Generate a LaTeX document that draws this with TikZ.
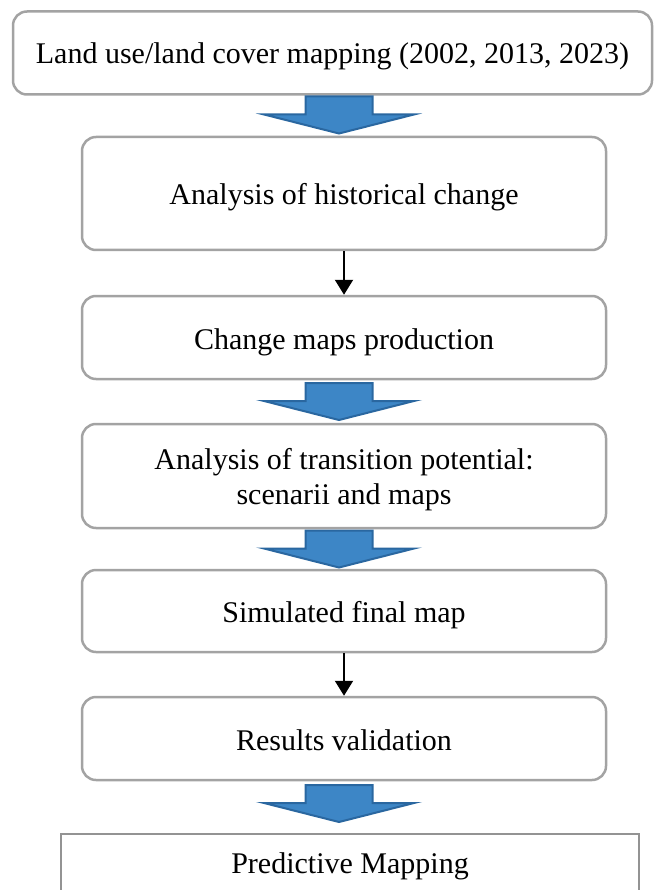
\documentclass[tikz,border=0pt]{standalone}
\usepackage{fontspec}
\setmainfont{Liberation Serif}
\usetikzlibrary{arrows.meta}
\definecolor{boxline}{HTML}{A3A3A3}
\definecolor{arrowfill}{HTML}{3D86C6}
\definecolor{arrowline}{HTML}{2A67A0}

\begin{document}
\begin{tikzpicture}[x=1pt, y=-1pt,
    stage/.style ={rectangle, rounded corners=14pt, draw=boxline, line width=2.5pt,
      font=\fontsize{30}{35}\selectfont, align=center, inner sep=0pt,
      text height=27pt, text depth=4pt},
    link/.style ={line width=2pt, -{Triangle[width=18pt,length=15pt]}},
    blockarrow/.pic ={\draw[arrowline, fill=arrowfill, line width=2pt, line join=miter]
      (-33.5,-18.5) -- (33.5,-18.5) -- (33.5,-0.5) -- (75,-0.5) -- (0,18.5)
      -- (-75,-0.5) -- (-33.5,-0.5) -- cycle;}]
   \clip (0,0) rectangle (664,890);
   \node[stage, minimum width=639pt, minimum height=83pt, text height=26pt, text depth=5pt] (A) at (332.5,53) {Land use/land cover mapping (2002, 2013, 2023)};
   \node[stage, minimum width=524pt, minimum height=113pt] (B) at (344,193.5) {Analysis of historical change};
   \node[stage, minimum width=524pt, minimum height=83pt] (C) at (344,337.5) {Change maps production};
   \node[stage, minimum width=524pt, minimum height=104pt, text height=62pt, text depth=6pt] (D) at (344,476) {Analysis of transition potential:\\scenarii and maps};
   \node[stage, minimum width=524pt, minimum height=82pt] (E) at (344,611) {Simulated final map};
   \node[stage, minimum width=524pt, minimum height=83pt] (F) at (344,738.5) {Results validation};
   \node[stage, rounded corners=0pt, draw=boxline!90!black, line width=2pt, minimum width=578pt, minimum height=58pt, text height=25pt] (G) at (350,863) {Predictive Mapping};
   \draw[link] (B) to (C);
   \draw[link] (E) to (F);
      \pic at (339,115) {blockarrow};
      \pic at (339,401.5) {blockarrow};
      \pic at (339,549) {blockarrow};
      \pic at (339,803.5) {blockarrow};
 \end{tikzpicture}
\end{document}
